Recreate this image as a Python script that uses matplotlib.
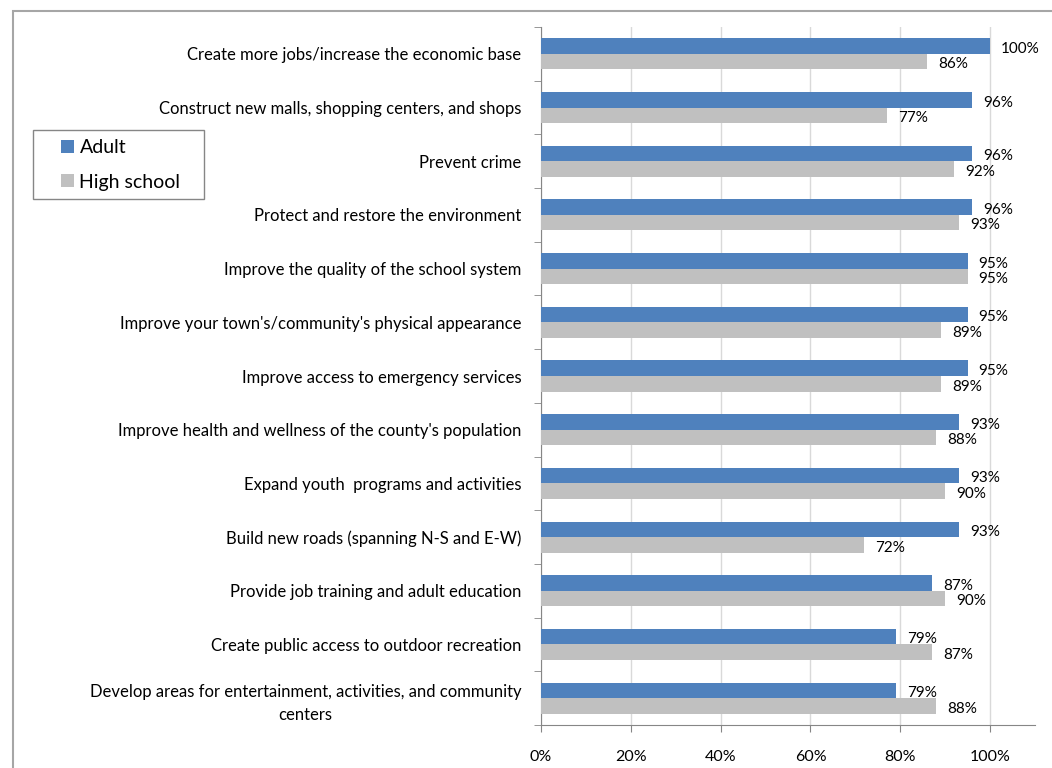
import numpy as np
import matplotlib.pyplot as plt
from matplotlib.patches import Rectangle
from matplotlib.ticker import FixedLocator, PercentFormatter

plt.rcParams['font.family'] = ['Lato', 'DejaVu Sans']

# Survey priorities, share of respondents rating each one important
categories = [
    "Create more jobs/increase the economic base",
    "Construct new malls, shopping centers, and shops",
    "Prevent crime",
    "Protect and restore the environment",
    "Improve the quality of the school system",
    "Improve your town's/community's physical appearance",
    "Improve access to emergency services",
    "Improve health and wellness of the county's population",
    "Expand youth  programs and activities",
    "Build new roads (spanning N-S and E-W)",
    "Provide job training and adult education",
    "Create public access to outdoor recreation",
    "Develop areas for entertainment, activities, and community\ncenters",
]
adult = [100, 96, 96, 96, 95, 95, 95, 93, 93, 93, 87, 79, 79]
high_school = [86, 77, 92, 93, 95, 89, 89, 88, 90, 72, 90, 87, 88]

blue = '#4F81BD'
grey = '#C0C0C0'
W, H = 1052, 768

fig = plt.figure(figsize=(W / 100, H / 100), dpi=100)
ax = fig.add_axes([541 / W, 1 - 725 / H, (1035 - 541) / W, (725 - 27) / H])

y = np.arange(len(categories))
h = 0.29
ax.barh(y - h / 2, np.array(adult) / 100, height=h, color=blue, label='Adult', zorder=3)
ax.barh(y + h / 2, np.array(high_school) / 100, height=h, color=grey, label='High school', zorder=3)

# value labels just right of each bar
for yi, a, s in zip(y, adult, high_school):
    ax.annotate(f'{a}%', (a / 100, yi - h / 2), xytext=(8, -2), textcoords='offset points',
                ha='left', va='center', fontsize=11)
    ax.annotate(f'{s}%', (s / 100, yi + h / 2), xytext=(8, -2), textcoords='offset points',
                ha='left', va='center', fontsize=11)

ax.set_xlim(0, 1.1)
ax.set_ylim(len(categories) - 0.5, -0.5)
ax.xaxis.set_major_locator(FixedLocator([0, 0.2, 0.4, 0.6, 0.8, 1.0]))
ax.xaxis.set_major_formatter(PercentFormatter(1.0, decimals=0))
ax.grid(axis='x', color='#D9D9D9', linewidth=1, zorder=0)

ax.set_yticks(y)
ax.set_yticklabels(categories, fontsize=12, multialignment='center', linespacing=1.55)
ax.yaxis.set_minor_locator(FixedLocator(np.arange(-0.5, len(categories), 1)))
ax.tick_params(axis='y', which='major', length=0, pad=14)
ax.tick_params(axis='y', which='minor', length=5, color='#868686')
ax.tick_params(axis='x', length=5, color='#868686', labelsize=11.5, pad=13)

for side in ['top', 'right']:
    ax.spines[side].set_visible(False)
for side in ['left', 'bottom']:
    ax.spines[side].set_color('#868686')

# outer chart frame
fig.patches.append(Rectangle((13 / W, -0.1), 1.2, 0.1 + 1 - 11 / H, transform=fig.transFigure,
                             fill=False, edgecolor='#A6A6A6', linewidth=1.5))

# legend box
fig.patches.append(Rectangle((33 / W, 1 - 199 / H), 171 / W, 69 / H, transform=fig.transFigure,
                             fill=False, edgecolor='#868686', linewidth=1))
handles, labels = ax.get_legend_handles_labels()
fig.legend(handles, labels, loc='center left', bbox_to_anchor=(61 / W, 1 - 165 / H),
           bbox_transform=fig.transFigure, fontsize=14, frameon=False,
           borderaxespad=0, borderpad=0, handlelength=0.65, handleheight=0.65,
           handletextpad=0.3, labelspacing=0.9)

fig.savefig('out.png', dpi=100)
